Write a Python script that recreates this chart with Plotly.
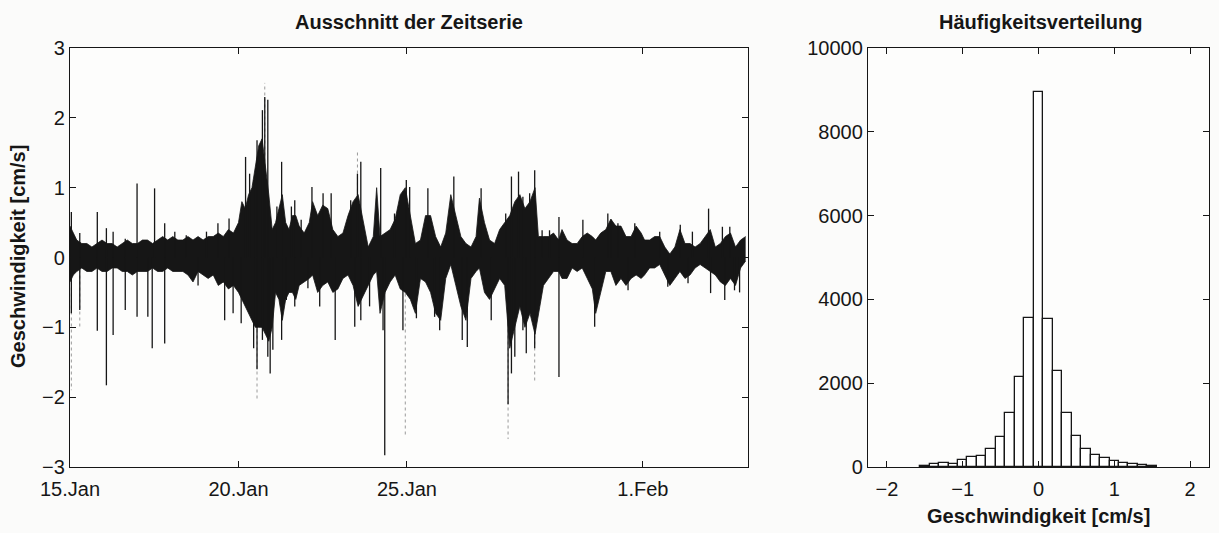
import pandas as pd
import plotly.graph_objects as go

# ---------------- data ----------------
# time in days after 15 Jan 00:00; envelope of the dense velocity band [cm/s]
band_t = [0.0, 0.1, 0.2, 0.35, 0.5, 0.65, 0.8, 0.95, 1.1, 1.25, 1.4, 1.55, 1.7, 1.85, 2.0, 2.15, 2.3, 2.45, 2.6, 2.75, 2.9, 3.05, 3.2,
          3.35, 3.5, 3.65, 3.8, 3.95, 4.1, 4.25, 4.4, 4.55, 4.7, 4.85, 5.0, 5.1, 5.2, 5.3, 5.4, 5.5, 5.6, 5.7, 5.8, 5.9, 6.0, 6.1, 6.2, 6.3, 6.4, 6.5, 6.6, 6.7,
          6.8, 6.95, 7.1, 7.2, 7.35, 7.5, 7.65, 7.8, 7.95, 8.1, 8.25, 8.4, 8.55, 8.7, 8.85, 9.0, 9.1, 9.2, 9.35, 9.5, 9.65, 9.8, 9.95, 10.1,
          10.25, 10.4, 10.55, 10.7, 10.85, 11.0, 11.15, 11.3, 11.45, 11.6, 11.75, 11.9, 12.05, 12.15, 12.3, 12.45, 12.6, 12.75, 12.9, 13.05, 13.2, 13.35, 13.5,
          13.65, 13.8, 13.9, 14.05, 14.2, 14.35, 14.5, 14.6, 14.75, 14.9, 15.05, 15.2, 15.35, 15.5, 15.6, 15.75, 15.9, 16.05, 16.2, 16.35, 16.5, 16.65, 16.8, 16.95,
          17.05, 17.2, 17.35, 17.5, 17.65, 17.8, 17.95, 18.1, 18.25, 18.4, 18.55, 18.7, 18.85, 19.0, 19.15, 19.3, 19.45, 19.6, 19.75, 19.9, 20.05]
band_hi = [0.45, 0.35, 0.25, 0.2, 0.2, 0.15, 0.2, 0.25, 0.2, 0.2, 0.15, 0.2, 0.25, 0.2, 0.2, 0.25, 0.25, 0.2, 0.25, 0.3, 0.25, 0.3, 0.25,
           0.25, 0.3, 0.25, 0.3, 0.25, 0.3, 0.3, 0.35, 0.3, 0.4, 0.35, 0.5, 0.8, 0.7, 0.9, 1.0, 1.3, 1.6, 1.7, 1.3, 0.9, 0.4, 0.5, 0.7, 0.9, 0.5, 0.4, 0.6, 0.6,
           0.45, 0.35, 0.5, 0.8, 0.6, 0.75, 0.7, 0.4, 0.3, 0.35, 0.6, 0.8, 0.9, 0.5, 0.15, 0.3, 1.0, 0.3, 0.35, 0.4, 0.55, 0.9, 1.0, 0.6,
           0.2, 0.25, 0.6, 0.6, 0.3, 0.15, 0.35, 0.9, 0.6, 0.3, 0.2, 0.15, 0.3, 0.85, 0.5, 0.25, 0.2, 0.4, 0.5, 0.6, 0.8, 0.9, 0.7,
           0.8, 1.0, 0.3, 0.3, 0.3, 0.35, 0.25, 0.4, 0.25, 0.2, 0.2, 0.3, 0.35, 0.3, 0.25, 0.35, 0.4, 0.55, 0.45, 0.45, 0.3, 0.3, 0.45, 0.35,
           0.25, 0.25, 0.3, 0.3, 0.15, 0.05, 0.15, 0.4, 0.2, 0.2, 0.15, 0.2, 0.3, 0.4, 0.15, 0.2, 0.3, 0.35, 0.15, 0.25, 0.3]
band_lo = [-0.35, -0.25, -0.2, -0.15, -0.2, -0.2, -0.15, -0.2, -0.2, -0.15, -0.15, -0.2, -0.2, -0.25, -0.2, -0.2, -0.2, -0.15, -0.2, -0.2, -0.15, -0.2, -0.2,
           -0.2, -0.25, -0.35, -0.2, -0.25, -0.3, -0.25, -0.4, -0.35, -0.45, -0.4, -0.5, -0.6, -0.7, -0.8, -0.9, -1.0, -1.0, -1.0, -1.1, -1.2, -1.0, -0.5, -0.6, -0.9, -0.6, -0.5, -0.5, -0.6,
           -0.4, -0.35, -0.3, -0.25, -0.5, -0.4, -0.35, -0.5, -0.45, -0.3, -0.25, -0.4, -0.7, -0.55, -0.4, -0.25, -0.2, -0.8, -0.5, -0.35, -0.25, -0.45, -0.5, -0.6,
           -0.8, -0.3, -0.35, -0.5, -0.8, -0.9, -0.3, -0.1, -0.4, -0.7, -0.9, -0.3, -0.2, -0.15, -0.5, -0.6, -0.45, -0.3, -0.4, -1.3, -1.0, -0.7, -1.0,
           -0.8, -1.1, -0.8, -0.4, -0.3, -0.2, -0.2, -0.3, -0.3, -0.15, -0.2, -0.15, -0.3, -0.45, -0.8, -0.5, -0.2, -0.2, -0.4, -0.3, -0.4, -0.3, -0.25, -0.3,
           -0.25, -0.15, -0.15, -0.1, -0.25, -0.4, -0.3, -0.2, -0.3, -0.25, -0.15, -0.1, -0.15, -0.2, -0.25, -0.35, -0.4, -0.3, -0.4, -0.15, -0.05]

# individual spikes: time [days after 15 Jan], extreme value [cm/s]
spike_t = [0.04, 0.04, 0.29, 0.29, 0.81, 0.81, 1.08, 1.08, 1.28, 1.28, 1.64, 1.64, 1.99, 1.99, 2.31, 2.44, 2.51, 2.81, 2.81, 3.11,
           3.45, 3.80, 4.05, 4.39, 4.59, 4.72, 4.84, 5.08, 5.21, 5.33, 5.45, 5.45, 5.55, 5.55, 5.71, 5.71, 5.78, 5.87, 5.87, 5.94, 6.02,
           6.14, 6.28, 6.28, 6.42, 6.57, 6.67, 6.67,
           6.86, 7.06, 7.18, 7.41, 7.51, 7.75, 7.87, 8.33, 8.45, 8.53, 8.63, 8.63, 8.89, 9.22, 9.29, 9.34, 9.63, 9.88, 9.98, 10.08,
           10.28, 10.62, 10.82, 10.97, 11.39, 11.64, 11.79, 12.20, 12.50, 12.93, 13.0, 13.10, 13.10, 13.20, 13.31, 13.44, 13.44, 13.54,
           13.64, 13.64, 13.79, 13.79, 14.01, 14.23, 14.51, 14.51, 15.22, 15.57, 15.96, 16.06, 16.26, 16.56, 16.76,
           17.50, 17.74, 18.11, 18.34, 18.47, 18.95, 19.01, 19.36, 19.43, 19.58, 19.72, 19.87]
spike_v = [0.65, -0.8, 0.35, -0.75, 0.65, -1.05, 0.42, -1.83, 0.37, -1.11, 0.27, -0.75, 1.06, -0.85, -0.85, -1.30, 0.99, 0.49, -1.23, 0.37,
           0.32, -0.4, 0.37, 0.49, -0.9, 0.56, -0.8, -0.94, 1.44, 1.2, 1.11, -1.30, 1.68, -1.6, 2.11, -1.18, 2.3, 2.26, -1.42, -1.66, -1.32,
           0.73, 1.37, -1.18, -0.61, 0.73, 0.82, -0.7,
           0.54, -0.44, 1.01, -0.7, 0.92, 0.92, -1.18, 0.82, -0.99, 1.2, 1.37, -0.9, -0.7, 1.28, -1.04, -2.83, 0.63, -1.04, 1.11, 1.01,
           -0.87, 0.99, -0.85, -1.04, 1.16, -1.18, -1.28, 0.99, -0.9, 0.63, -2.1, 1.16, -1.66, -1.42, 1.23, 0.87, -1.04, -1.37,
           0.92, -0.8, 1.25, -1.3, 0.39, 0.39, 0.58, -1.71, 0.54, -0.99, 0.63, 0.54, 0.49, -0.47, 0.49,
           0.37, -0.42, 0.47, -0.37, 0.37, 0.7, -0.51, 0.44, -0.61, 0.44, -0.47, -0.5]

# faint (dotted, light) spike traces in the scan: time [days], value [cm/s]
faint_t = [0.04, 0.29, 5.55, 5.78, 8.53, 9.95, 13.0, 13.79]
faint_v = [-1.9, -1.0, -2.04, 2.5, 1.52, -2.55, -2.6, -1.8]

# histogram: bin centres [cm/s] and counts
hist_centers = [-1.5, -1.375, -1.25, -1.125, -1.0, -0.875, -0.75, -0.625, -0.5, -0.375, -0.25, -0.125, 0.0,
                0.125, 0.25, 0.375, 0.5, 0.625, 0.75, 0.875, 1.0, 1.125, 1.25, 1.375, 1.5]
hist_counts = [30, 70, 95, 80, 170, 230, 260, 430, 710, 1280, 2150, 3560, 8950,
               3540, 2280, 1300, 750, 430, 290, 210, 150, 90, 70, 50, 20]

x_tick_days = [0, 5, 10, 17]
x_tick_text = ["15.Jan", "20.Jan", "25.Jan", "1.Feb"]
x_end_days = 20.12
hist_yticks = [0, 2000, 4000, 6000, 8000, 10000]

# ---------------- figure ----------------
INK = "#161616"
FONT = "Liberation Sans"
W, H = 1219, 533
base = pd.Timestamp("1996-01-15")


def dt(d):
    return (base + pd.Timedelta(days=d)).isoformat()


def segs(ts, vs):
    xs, ys = [], []
    for t, v in zip(ts, vs):
        xs += [dt(t), dt(t), None]
        ys += [0, v, None]
    return xs, ys


fig = go.Figure()
fx, fy = segs(faint_t, faint_v)
fig.add_trace(go.Scatter(x=fx, y=fy, mode="lines", line=dict(color="#9a9a9a", width=1, dash="dot"),
                         hoverinfo="skip"))
fig.add_trace(go.Scatter(x=[dt(t) for t in band_t], y=band_lo, mode="lines",
                         line=dict(color=INK, width=0.8), hoverinfo="skip"))
fig.add_trace(go.Scatter(x=[dt(t) for t in band_t], y=band_hi, mode="lines",
                         line=dict(color=INK, width=0.8), fill="tonexty", fillcolor=INK, hoverinfo="skip"))
sx, sy = segs(spike_t, spike_v)
fig.add_trace(go.Scatter(x=sx, y=sy, mode="lines", line=dict(color=INK, width=1.3), hoverinfo="skip"))

fig.add_trace(go.Bar(x=hist_centers, y=hist_counts, width=0.125, xaxis="x2", yaxis="y2",
                     marker=dict(color="white", line=dict(color=INK, width=1.3))))

ax = dict(showline=True, linecolor=INK, linewidth=1.3, mirror="ticks", ticks="inside", ticklen=6,
          tickcolor=INK, tickwidth=1.2, showgrid=False, zeroline=False, automargin=False,
          tickfont=dict(family=FONT, size=20, color=INK))

ytop, ybot = 48, 467
ydom = [(H - ybot) / H, (H - ytop) / H]
fig.update_layout(
    width=W, height=H, margin=dict(l=0, r=0, t=0, b=0, autoexpand=False),
    paper_bgcolor="#fbfbfa", plot_bgcolor="#fdfdfc", showlegend=False, bargap=0,
    xaxis=dict(ax, domain=[70 / W, 748 / W], type="date", anchor="y", ticklabelstandoff=4,
               range=[dt(0), dt(x_end_days)], tickvals=[dt(d) for d in x_tick_days], ticktext=x_tick_text),
    yaxis=dict(ax, domain=ydom, range=[-3, 3], tickvals=[-3, -2, -1, 0, 1, 2, 3], anchor="x"),
    xaxis2=dict(ax, domain=[868 / W, 1209 / W], range=[-2.25, 2.25], tickvals=[-2, -1, 0, 1, 2],
                anchor="y2", ticklabelstandoff=4),
    yaxis2=dict(ax, domain=ydom, range=[0, 10000], tickvals=hist_yticks,
                ticktext=[str(v) for v in hist_yticks], anchor="x2"),
)

tfont = dict(family=FONT, size=20, color=INK)
fig.add_annotation(text="<b>Ausschnitt der Zeitserie</b>", x=409 / W, y=(H - 22) / H, xref="paper", yref="paper",
                   showarrow=False, xanchor="center", yanchor="middle", font=tfont)
fig.add_annotation(text="<b>Häufigkeitsverteilung</b>", x=1040 / W, y=(H - 22) / H, xref="paper", yref="paper",
                   showarrow=False, xanchor="center", yanchor="middle", font=tfont)
fig.add_annotation(text="<b>Geschwindigkeit [cm/s]</b>", x=18 / W, y=(H - 257) / H, xref="paper", yref="paper",
                   showarrow=False, xanchor="center", yanchor="middle", textangle=-90, font=tfont)
fig.add_annotation(text="<b>Geschwindigkeit [cm/s]</b>", x=1038 / W, y=(H - 516) / H, xref="paper", yref="paper",
                   showarrow=False, xanchor="center", yanchor="middle", font=tfont)

fig.write_html("out.html")
